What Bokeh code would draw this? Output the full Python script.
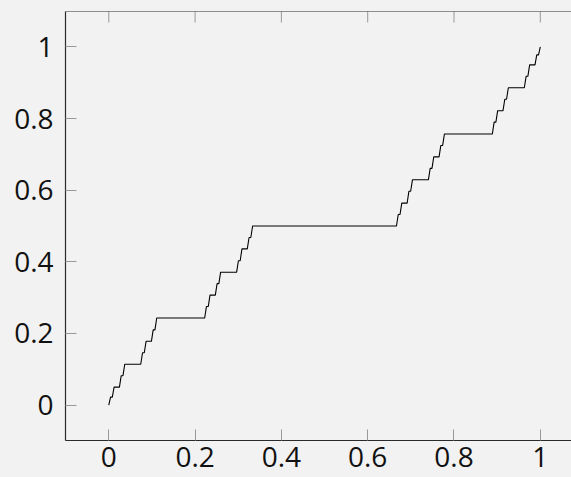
import math
from bokeh.plotting import figure
from bokeh.models import LinearAxis, FixedTicker, Range1d, Span
from bokeh.embed import file_html
from bokeh.resources import INLINE

# Left edges of the rising parts of the staircase
riser_x = [0.0, 0.0082, 0.0247, 0.0329, 0.0741, 0.0823, 0.0988, 0.1070,
           0.2222, 0.2305, 0.2469, 0.2551, 0.2963, 0.3045, 0.3210, 0.3292,
           0.6667, 0.6749, 0.6914, 0.6996, 0.7407, 0.7490, 0.7654, 0.7737,
           0.8889, 0.8971, 0.9136, 0.9218, 0.9630, 0.9712, 0.9877, 0.9959]
riser_w = 0.0041
# Levels of the flat parts (start, 31 treads, end)
plateau_y = [0.0, 0.022, 0.050, 0.082, 0.114, 0.146, 0.178, 0.210, 0.243,
             0.275, 0.307, 0.339, 0.371, 0.403, 0.436, 0.468, 0.500,
             0.532, 0.564, 0.597, 0.629, 0.661, 0.693, 0.725, 0.757,
             0.790, 0.822, 0.854, 0.886, 0.918, 0.950, 0.978, 1.0]

ticks = [0, 0.2, 0.4, 0.6, 0.8, 1]
tick_labels = ["0", "0.2", "0.4", "0.6", "0.8", "1"]

xs, ys = [], []
for i, x0 in enumerate(riser_x):
    xs += [x0, x0 + riser_w]
    ys += [plateau_y[i], plateau_y[i + 1]]

BG = "#f2f2f2"
AXIS = "#2a2a2a"
TICK = "#999999"
x_range = Range1d(-0.1003, 1.0723)
y_range = Range1d(-0.099, 1.099)
p = figure(width=571, height=477, output_backend="svg", toolbar_location=None,
           x_range=x_range, y_range=y_range,
           x_axis_location=None, y_axis_location=None,
           background_fill_color=BG, border_fill_color=BG,
           min_border_left=65, min_border_top=11, min_border_right=0, min_border_bottom=37)
p.outline_line_color = None
p.grid.visible = False

p.line(xs, ys, line_color="black", line_width=1.1)

overrides = dict(zip(ticks, tick_labels))

def style(ax):
    ax.ticker = FixedTicker(ticks=ticks)
    ax.major_label_overrides = overrides
    ax.axis_line_color = AXIS
    ax.axis_line_width = 1.2
    ax.major_tick_line_color = TICK
    ax.major_tick_line_width = 1
    ax.major_tick_in = 11
    ax.major_tick_out = 0
    ax.minor_tick_line_color = None
    ax.major_label_text_font = "Open Sans"
    ax.major_label_text_font_size = "28px"
    ax.major_label_text_color = "#111111"

bottom = LinearAxis()
style(bottom)
bottom.major_label_standoff = 6
p.add_layout(bottom, "below")

left = LinearAxis()
style(left)
left.major_label_standoff = 12
p.add_layout(left, "left")

# top frame line with inward ticks (no labels)
p.add_layout(Span(location=y_range.end, dimension="width", line_color=AXIS, line_width=1.2))
p.scatter(x=ticks, y=[y_range.end] * len(ticks), marker="dash", angle=math.pi / 2,
          size=22, line_color=TICK, line_width=1)

html = file_html(p, INLINE)
html = html.replace("<head>", "<head><style>html,body{background:#f2f2f2;}</style>", 1)
open("out.html", "w").write(html)
